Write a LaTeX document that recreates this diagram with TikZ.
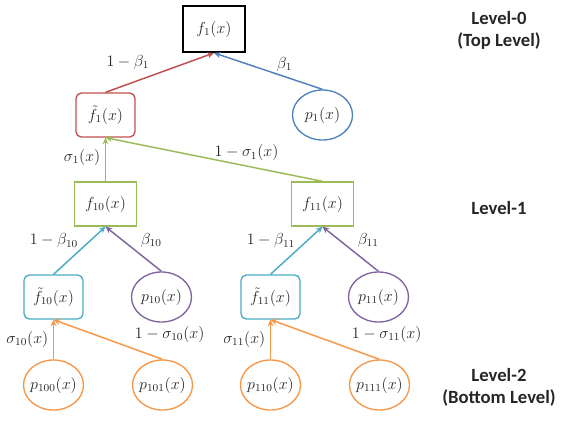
\documentclass[tikz,border=0pt]{standalone}
\usepackage{amsmath}
\usepackage{amssymb}
\usepackage{fontspec}
\newfontfamily\levelfont{Carlito}
\usepackage{tikz}
\usetikzlibrary{shapes.geometric,arrows.meta,trees}

\definecolor{cred}{RGB}{192,80,77}
\definecolor{cblue}{RGB}{79,129,189}
\definecolor{cgreen}{RGB}{155,187,89}
\definecolor{ccyan}{RGB}{75,172,198}
\definecolor{cpurple}{RGB}{128,100,162}
\definecolor{corange}{RGB}{247,150,70}

\begin{document}
\begin{tikzpicture}[x=0.75pt,y=0.75pt,
  every node/.style={font=\fontsize{11.5}{14}\selectfont,text=black!85},
  fbox/.style={draw,rectangle,minimum width=46.5pt,minimum height=33pt,line width=1pt},
  ftil/.style={fbox,minimum width=44.25pt,rounded corners=4pt},
  topbox/.style={fbox,minimum height=34.5pt,line width=1.4pt},
  pcirc/.style={draw,ellipse,minimum width=45pt,minimum height=37.5pt,
    inner xsep=-2pt,inner ysep=0pt,line width=1pt},
  levellbl/.style={font=\levelfont\bfseries\fontsize{14}{16.5}\selectfont,align=center},
  level 1/.style={sibling distance=162.75pt,level distance=64.5pt},
  level 2/.style={grow via three points={one child at (0,-89) and two children at (0,-89) and (217,-89)}},
  level 3/.style={grow via three points={one child at (0,-93) and two children at (-52,-93) and (56,-93)}},
  level 4/.style={grow via three points={one child at (0,-88) and two children at (0,-88) and (109,-88)}},
  parent anchor=south,child anchor=north,
  edge from parent/.style={draw,line width=1.1pt,{Stealth[length=5pt,width=4.5pt]}-}]

  \useasboundingbox (0,0) rectangle (564,-425);

  \node[topbox] (f1) at (214,-29) {$f_1(x)$}
  child {node[ftil,draw=cred] (tf1) {$\tilde{f}_1(x)$}
    child {node[fbox,draw=cgreen] (f10) {$f_{10}(x)$}
      child {node[ftil,draw=ccyan] (tf10) {$\tilde{f}_{10}(x)$}
        child {node[pcirc,draw=corange] (p100) {$p_{100}(x)$}
          edge from parent[draw=corange] node[left] (s100) {$\sigma_{10}(x)$}}
        child {node[pcirc,draw=corange] (p101) {$p_{101}(x)$}
          edge from parent[draw=corange] node[pos=0.7,above right] (s101) {$1-\sigma_{10}(x)$}}
        edge from parent[draw=ccyan] node[pos=0.3,left=5pt] (b10) {$1-\beta_{10}$}}
      child {node[pcirc,draw=cpurple] (p10) {$p_{10}(x)$}
        edge from parent[draw=cpurple] node[pos=0.3,right=10pt] (bb10) {$\beta_{10}$}}
      edge from parent[draw=cgreen] node[pos=0.45,left] (s10) {$\sigma_1(x)$}}
    child {node[fbox,draw=cgreen] (f11) {$f_{11}(x)$}
      child {node[ftil,draw=ccyan] (tf11) {$\tilde{f}_{11}(x)$}
        child {node[pcirc,draw=corange] (p110) {$p_{110}(x)$}
          edge from parent[draw=corange] node[left] (s110) {$\sigma_{11}(x)$}}
        child {node[pcirc,draw=corange] (p111) {$p_{111}(x)$}
          edge from parent[draw=corange] node[pos=0.7,above right] (s111) {$1-\sigma_{11}(x)$}}
        edge from parent[draw=ccyan] node[pos=0.3,left=5pt] (b11) {$1-\beta_{11}$}}
      child {node[pcirc,draw=cpurple] (p11) {$p_{11}(x)$}
        edge from parent[draw=cpurple] node[pos=0.3,right=10pt] (bb11) {$\beta_{11}$}}
      edge from parent[draw=cgreen] node[pos=0.65,above] (s11) {$1-\sigma_1(x)$}}
    edge from parent[draw=cred] node[pos=0.55,above left] (b1) {$1-\beta_1$}}
  child {node[pcirc,draw=cblue] (p1) {$p_1(x)$}
    edge from parent[draw=cblue] node[pos=0.65,above] (bb1) {$\beta_1$}};

  % level names
  \node[levellbl] (lv0) at (499,-30) {Level-0\\(Top Level)};
  \node[levellbl] (lv1) at (499,-208) {Level-1};
  \node[levellbl] (lv2) at (499,-387) {Level-2\\(Bottom Level)};
\end{tikzpicture}
\end{document}
